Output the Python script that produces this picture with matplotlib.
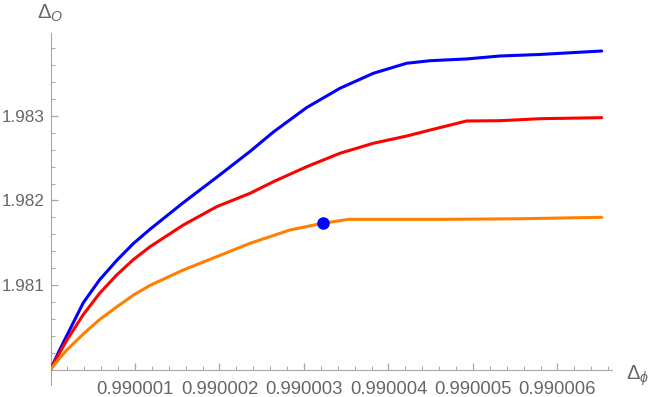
import matplotlib
matplotlib.use("Agg")
import matplotlib.pyplot as plt
from matplotlib.ticker import FixedLocator, MultipleLocator

# ---- data (x offsets in units of 1e-6 above 0.99, y offsets in units of 1e-3 above 1.98)
blue_dx = [0, 0.100, 0.192, 0.388, 0.580, 0.783, 0.980, 1.178, 1.572, 1.967, 2.361, 2.637,
           3.032, 3.426, 3.820, 4.215, 4.491, 4.925, 5.320, 5.793, 6.523]
blue_dy = [0, 0.215, 0.400, 0.790, 1.060, 1.290, 1.490, 1.660, 1.975, 2.275, 2.580, 2.810,
           3.100, 3.328, 3.505, 3.624, 3.654, 3.675, 3.710, 3.728, 3.769]

red_dx = [0, 0.100, 0.192, 0.388, 0.580, 0.783, 0.980, 1.178, 1.572, 1.967, 2.361, 2.637,
          3.032, 3.426, 3.820, 4.215, 4.530, 4.925, 5.320, 5.793, 6.523]
red_dy = [0, 0.185, 0.345, 0.650, 0.900, 1.118, 1.300, 1.453, 1.710, 1.927, 2.085, 2.222,
          2.400, 2.559, 2.677, 2.763, 2.843, 2.941, 2.944, 2.968, 2.980]

orange_dx = [0, 0.100, 0.192, 0.388, 0.580, 0.783, 0.980, 1.178, 1.572, 1.967, 2.361, 2.834,
             3.221, 3.530, 4.609, 5.500, 6.523]
orange_dy = [0, 0.125, 0.230, 0.420, 0.590, 0.740, 0.880, 0.995, 1.178, 1.335, 1.493, 1.651,
             1.730, 1.777, 1.777, 1.783, 1.801]

point_dx = [3.221]
point_dy = [1.730]

x_ticks = [0.990001, 0.990002, 0.990003, 0.990004, 0.990005, 0.990006]
x_tick_labels = ["0.990001", "0.990002", "0.990003", "0.990004", "0.990005", "0.990006"]
y_ticks = [1.981, 1.982, 1.983]
y_tick_labels = ["1.981", "1.982", "1.983"]

x0, y0 = 0.99, 1.98

def X(d):
    return [x0 + v * 1e-6 for v in d]

def Y(d):
    return [y0 + v * 1e-3 for v in d]

W, H = 654, 397
fig = plt.figure(figsize=(W / 100, H / 100), dpi=100)
left, right, top, bottom = 50.5, 612, 33, 385
ax = fig.add_axes([left / W, 1 - bottom / H, (right - left) / W, (bottom - top) / H])

kw = dict(lw=2.2, solid_joinstyle="round", solid_capstyle="round", zorder=3)
ax.plot(X(blue_dx), Y(blue_dy), color="#0000ff", **kw)
ax.plot(X(red_dx), Y(red_dy), color="#ff0000", **kw)
ax.plot(X(orange_dx), Y(orange_dy), color="#ff8000", **kw)
ax.plot(X(point_dx), Y(point_dy), "o", color="#0000ff", ms=8, zorder=4)

x_max = x0 + 6.645e-6
y_max = y0 + 3.982e-3
y_min = y0 - 0.1834e-3
ax.set_xlim(x0, x_max)
ax.set_ylim(y_min, y_max)

axis_col = "#a6a6a6"
text_col = "#666666"
for s in ["top", "right"]:
    ax.spines[s].set_visible(False)
ax.spines["bottom"].set_position(("data", y0))
ax.spines["bottom"].set_color(axis_col)
ax.spines["left"].set_color(axis_col)

ax.xaxis.set_major_locator(FixedLocator(x_ticks))
ax.set_xticklabels(x_tick_labels)
ax.xaxis.set_minor_locator(MultipleLocator(0.2e-6))
ax.yaxis.set_major_locator(FixedLocator(y_ticks))
ax.set_yticklabels(y_tick_labels)
ax.yaxis.set_minor_locator(MultipleLocator(0.0002))

font = "Liberation Sans"
ax.tick_params(axis="both", which="major", direction="in", length=5, width=0.9,
               color=axis_col, labelcolor=text_col)
ax.tick_params(axis="both", which="minor", direction="in", length=3, width=0.7, color=axis_col)
ax.tick_params(axis="x", which="major", pad=8, labelsize=13.3)
ax.tick_params(axis="y", which="major", pad=4, labelsize=12.3)
for lab in ax.get_xticklabels() + ax.get_yticklabels():
    lab.set_fontfamily(font)

plt.rcParams["mathtext.fontset"] = "custom"
plt.rcParams["mathtext.rm"] = font
plt.rcParams["mathtext.it"] = font + ":italic"
fig.text(37 / W, 1 - 13 / H, r"$\Delta_{O}$", color=text_col, fontsize=14.5,
         ha="left", va="center")
fig.text(626 / W, 1 - 376 / H, r"$\Delta_{\phi}$", color=text_col, fontsize=14.5,
         ha="left", va="center")

fig.savefig("out.png", dpi=100)
